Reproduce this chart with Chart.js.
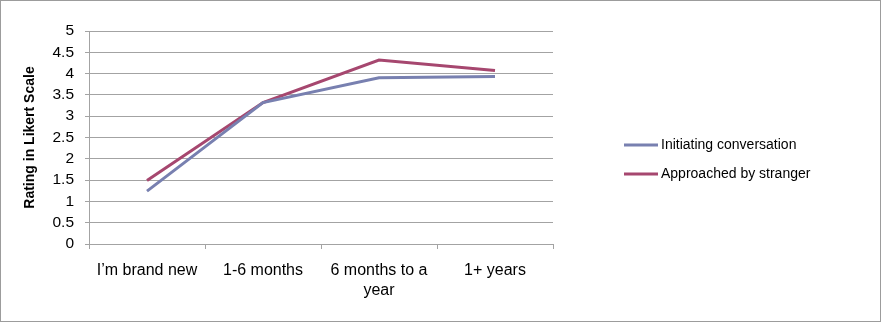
<!DOCTYPE html>
<html>
<head>
<meta charset="utf-8">
<script src="https://cdn.jsdelivr.net/npm/chart.js@4"></script>
<style>
  html, body { margin: 0; padding: 0; background: #fff; }
  #c { display: block; }
</style>
</head>
<body>
<canvas id="c" width="882" height="323"></canvas>
<script>
// Ratings by time on the platform, two survey questions
const categories = ["I\u2019m brand new", "1-6 months", ["6 months to a", "year"], "1+ years"];
const initiatingConversation = [1.24, 3.32, 3.90, 3.93];
const approachedByStranger = [1.49, 3.32, 4.32, 4.07];
const yTicks = [0, 0.5, 1, 1.5, 2, 2.5, 3, 3.5, 4, 4.5, 5];

const BLUE = "#7880b0";
const RED = "#a6476f";
const GRID = "#a3a3a3";
const FONT = "'Liberation Sans', Arial, sans-serif";

// legend on the right, drawn by hand so it sits where we want it
const sideLegend = {
  id: "sideLegend",
  afterDraw(chart) {
    const ctx = chart.ctx;
    const x0 = 624, x1 = 658, rows = [145, 174];
    ctx.save();
    ctx.font = "14px " + FONT;
    ctx.textBaseline = "middle";
    chart.data.datasets.forEach((ds, i) => {
      ctx.strokeStyle = ds.borderColor;
      ctx.lineWidth = 3;
      ctx.beginPath();
      ctx.moveTo(x0, rows[i]);
      ctx.lineTo(x1, rows[i]);
      ctx.stroke();
      ctx.fillStyle = "#000";
      ctx.fillText(ds.label, x1 + 3, rows[i] + 0.5);
    });
    ctx.restore();
  }
};

// thin grey frame round the whole chart
const frame = {
  id: "frame",
  afterDraw(chart) {
    const ctx = chart.ctx;
    ctx.save();
    ctx.strokeStyle = "#9c9c9c";
    ctx.lineWidth = 1;
    ctx.strokeRect(0.5, 0.5, chart.width - 2, chart.height - 2);
    ctx.restore();
  }
};

new Chart(document.getElementById("c"), {
  type: "line",
  data: {
    labels: categories,
    datasets: [
      { label: "Initiating conversation", data: initiatingConversation, borderColor: BLUE },
      { label: "Approached by stranger", data: approachedByStranger, borderColor: RED }
    ]
  },
  options: {
    responsive: false,
    animation: false,
    devicePixelRatio: 1,
    layout: { padding: { top: 31, right: 329, left: 0, bottom: 0 } },
    elements: {
      line: { borderWidth: 3, tension: 0, borderCapStyle: "butt" },
      point: { radius: 0, hoverRadius: 0 }
    },
    plugins: { legend: { display: false }, tooltip: { enabled: false } },
    scales: {
      x: {
        offset: true,
        grid: { offset: true, drawOnChartArea: false, color: GRID, tickLength: 5 },
        border: { color: GRID },
        ticks: { color: "#000", font: { family: FONT, size: 16, lineHeight: 1.25 }, padding: 12, maxRotation: 0, autoSkip: false },
        afterFit(s) { s.height = 79; }
      },
      y: {
        min: 0,
        max: 5,
        afterBuildTicks(s) { s.ticks = yTicks.map(v => ({ value: v })); },
        grid: { color: GRID, tickLength: 4 },
        border: { color: GRID },
        ticks: { color: "#000", font: { family: FONT, size: 15.5 }, padding: 11, autoSkip: false, callback: v => String(v) },
        title: {
          display: true,
          text: "Rating in Likert Scale",
          color: "#000",
          font: { family: FONT, size: 14, weight: "bold" },
          padding: { top: 22, bottom: 0 }
        },
        afterFit(s) { s.width = 89; }
      }
    }
  },
  plugins: [sideLegend, frame]
});
</script>
</body>
</html>
